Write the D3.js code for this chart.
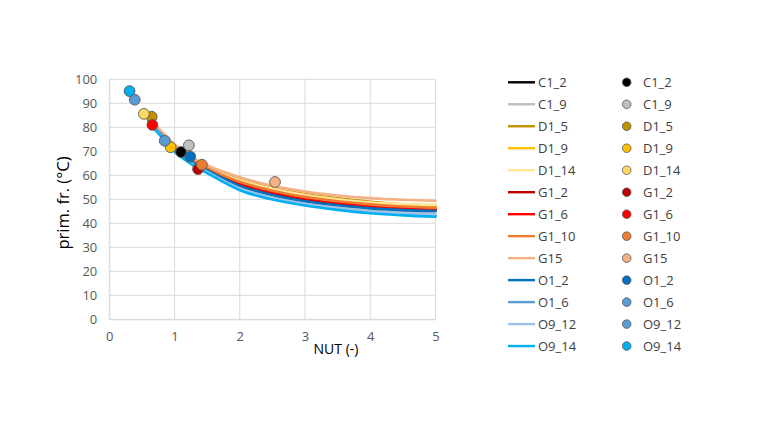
<!DOCTYPE html>
<html>
<head>
<meta charset="utf-8">
<script src="https://cdn.jsdelivr.net/npm/d3@7"></script>
<style>
  html, body { margin: 0; padding: 0; background: #fff; }
  svg { display: block; }
  text { font-family: "Open Sans", "Liberation Sans", sans-serif; }
</style>
</head>
<body>
<svg id="chart" width="760" height="440"></svg>
<script>
// ---------- data ----------
const seriesNames = ["C1_2","C1_9","D1_5","D1_9","D1_14","G1_2","G1_6","G1_10","G15","O1_2","O1_6","O9_12","O9_14"];
const lineColors  = ["#000000","#BFBFBF","#BF9000","#FFC000","#FFE699","#C00000","#FF0000","#ED7D31","#F4B183","#0070C0","#5B9BD5","#9DC3E6","#00B0F0"];
const markerColors = ["#000000","#BFBFBF","#BF9000","#FFC000","#FFD966","#C00000","#FF0000","#ED7D31","#F4B183","#0070C0","#5B9BD5","#5B9BD5","#00B0F0"];

// measured points
const markerX = [1.10, 1.22, 0.65, 0.94, 0.53, 1.36, 0.66, 1.42, 2.54, 1.24, 0.85, 0.39, 0.31];
const markerY = [69.7, 72.5, 84.4, 71.7, 85.6, 62.6, 81.0, 64.4, 57.2, 67.8, 74.4, 91.5, 95.1];

// curve sample positions
const lineX = [0.6, 0.8, 1.0, 1.25, 1.5, 2.0, 2.5, 3.0, 3.5, 4.0, 4.5, 5.0];
const lineC1_2  = [82.6, 77.0, 71.2, 66.2, 62.4, 56.0, 52.2, 49.6, 47.9, 46.6, 45.9, 45.4];
const lineC1_9  = [82.3, 76.5, 70.6, 65.4, 61.6, 54.8, 50.8, 48.3, 46.5, 45.2, 44.6, 44.2];
const lineD1_5  = [83.2, 77.9, 72.3, 67.2, 63.4, 58.3, 54.8, 52.2, 50.4, 49.0, 47.9, 47.2];
const lineD1_9  = [83.0, 77.6, 72.0, 66.8, 63.0, 57.6, 54.0, 51.4, 49.6, 48.2, 47.3, 46.8];
const lineD1_14 = [83.1, 77.8, 72.2, 67.0, 63.2, 57.9, 54.4, 51.8, 50.0, 48.6, 48.0, 47.8];
const lineG1_2  = [82.7, 77.1, 71.4, 66.4, 62.6, 56.3, 52.4, 49.9, 48.1, 46.9, 46.1, 45.7];
const lineG1_6  = [82.8, 77.3, 71.6, 66.6, 62.8, 56.8, 53.0, 50.4, 48.6, 47.3, 46.5, 46.0];
const lineG1_10 = [83.0, 77.6, 71.9, 66.8, 63.0, 57.3, 53.6, 51.0, 49.2, 47.9, 47.0, 46.5];
const lineG15   = [83.5, 78.3, 72.8, 67.8, 64.2, 59.2, 55.6, 53.2, 51.6, 50.5, 49.8, 49.4];
const lineO1_2  = [82.5, 76.8, 71.0, 65.9, 62.1, 55.6, 51.8, 49.2, 47.5, 46.2, 45.5, 45.1];
const lineO1_6  = [82.1, 76.2, 70.2, 65.0, 61.2, 54.2, 50.3, 47.8, 46.0, 44.6, 43.8, 43.3];
const lineO9_12 = [82.2, 76.4, 70.4, 65.2, 61.4, 54.5, 50.6, 48.0, 46.2, 44.9, 44.2, 43.8];
const lineO9_14 = [82.0, 76.0, 69.9, 64.8, 60.9, 53.8, 49.9, 47.4, 45.6, 44.2, 43.3, 42.7];
const lineValues = [lineC1_2, lineC1_9, lineD1_5, lineD1_9, lineD1_14, lineG1_2, lineG1_6, lineG1_10, lineG15, lineO1_2, lineO1_6, lineO9_12, lineO9_14];

const xTicks = [0, 1, 2, 3, 4, 5];
const yTicks = [0, 10, 20, 30, 40, 50, 60, 70, 80, 90, 100];
const xTitle = "NUT (-)";
const yTitle = "prim. fr. (°C)";

// ---------- chart ----------
const svg = d3.select("#chart");
const plot = { left: 109.3, right: 435.5, top: 79.3, bottom: 319.3 };

const x = d3.scaleLinear().domain([0, 5]).range([plot.left, plot.right]);
const y = d3.scaleLinear().domain([0, 100]).range([plot.bottom, plot.top]);

// gridlines
const grid = svg.append("g");
grid.selectAll("line.h").data(yTicks).enter().append("line")
  .attr("x1", plot.left).attr("x2", plot.right)
  .attr("y1", d => y(d)).attr("y2", d => y(d))
  .attr("stroke", "#D9D9D9").attr("stroke-width", 1);
grid.selectAll("line.v").data(xTicks).enter().append("line")
  .attr("x1", d => x(d)).attr("x2", d => x(d))
  .attr("y1", plot.top).attr("y2", plot.bottom)
  .attr("stroke", "#D9D9D9").attr("stroke-width", 1);

// axes
const xAxis = d3.axisBottom(x).tickValues(xTicks).tickSize(0).tickPadding(12).tickFormat(d3.format("d"));
const yAxis = d3.axisLeft(y).tickValues(yTicks).tickSize(0).tickPadding(12).tickFormat(d3.format("d"));

const gx = svg.append("g").attr("transform", `translate(0,${plot.bottom})`).call(xAxis);
const gy = svg.append("g").attr("transform", `translate(${plot.left},0)`).call(yAxis);
[gx, gy].forEach(g => {
  g.select(".domain").attr("stroke", "#D9D9D9");
  g.selectAll("text").attr("fill", "#595959").style("font-size", "13px")
    .style("font-family", "'Open Sans', sans-serif");
});

// axis titles
svg.append("text").attr("x", 336).attr("y", 354).attr("text-anchor", "middle")
  .attr("fill", "#000").style("font-size", "14px").text(xTitle);
svg.append("text").attr("transform", `translate(69,203) rotate(-90)`).attr("text-anchor", "middle")
  .attr("fill", "#000").style("font-size", "16.5px").text(yTitle);

// lines
const lineGen = d3.line().x(d => x(d[0])).y(d => y(d[1])).curve(d3.curveMonotoneX);
const lineTable = seriesNames.map((n, i) => ({ name: n, color: lineColors[i], pts: lineX.map((xv, j) => [xv, lineValues[i][j]]) }));
svg.append("g").selectAll("path").data(lineTable).enter().append("path")
  .attr("d", d => lineGen(d.pts))
  .attr("fill", "none").attr("stroke", d => d.color).attr("stroke-width", 2.6)
  .attr("stroke-linejoin", "round").attr("stroke-linecap", "round");

// markers
const markerTable = seriesNames.map((n, i) => ({ name: n, color: markerColors[i], x: markerX[i], y: markerY[i] }));
svg.append("g").selectAll("circle").data(markerTable).enter().append("circle")
  .attr("cx", d => x(d.x)).attr("cy", d => y(d.y)).attr("r", 5.4)
  .attr("fill", d => d.color).attr("stroke", "#595959").attr("stroke-width", 0.9);

// legend
const legTop = 82.3, legStep = 21.98;
const leg = svg.append("g");
seriesNames.forEach((n, i) => {
  const yy = legTop + i * legStep;
  leg.append("line").attr("x1", 508).attr("x2", 535).attr("y1", yy).attr("y2", yy)
    .attr("stroke", lineColors[i]).attr("stroke-width", 2.4);
  leg.append("text").attr("x", 538).attr("y", yy).attr("dy", "0.35em")
    .attr("fill", "#404040").style("font-size", "13px").text(n);
  leg.append("circle").attr("cx", 626.7).attr("cy", yy).attr("r", 4.3)
    .attr("fill", markerColors[i]).attr("stroke", "#595959").attr("stroke-width", 0.8);
  leg.append("text").attr("x", 643).attr("y", yy).attr("dy", "0.35em")
    .attr("fill", "#404040").style("font-size", "13px").text(n);
});
</script>
</body>
</html>
